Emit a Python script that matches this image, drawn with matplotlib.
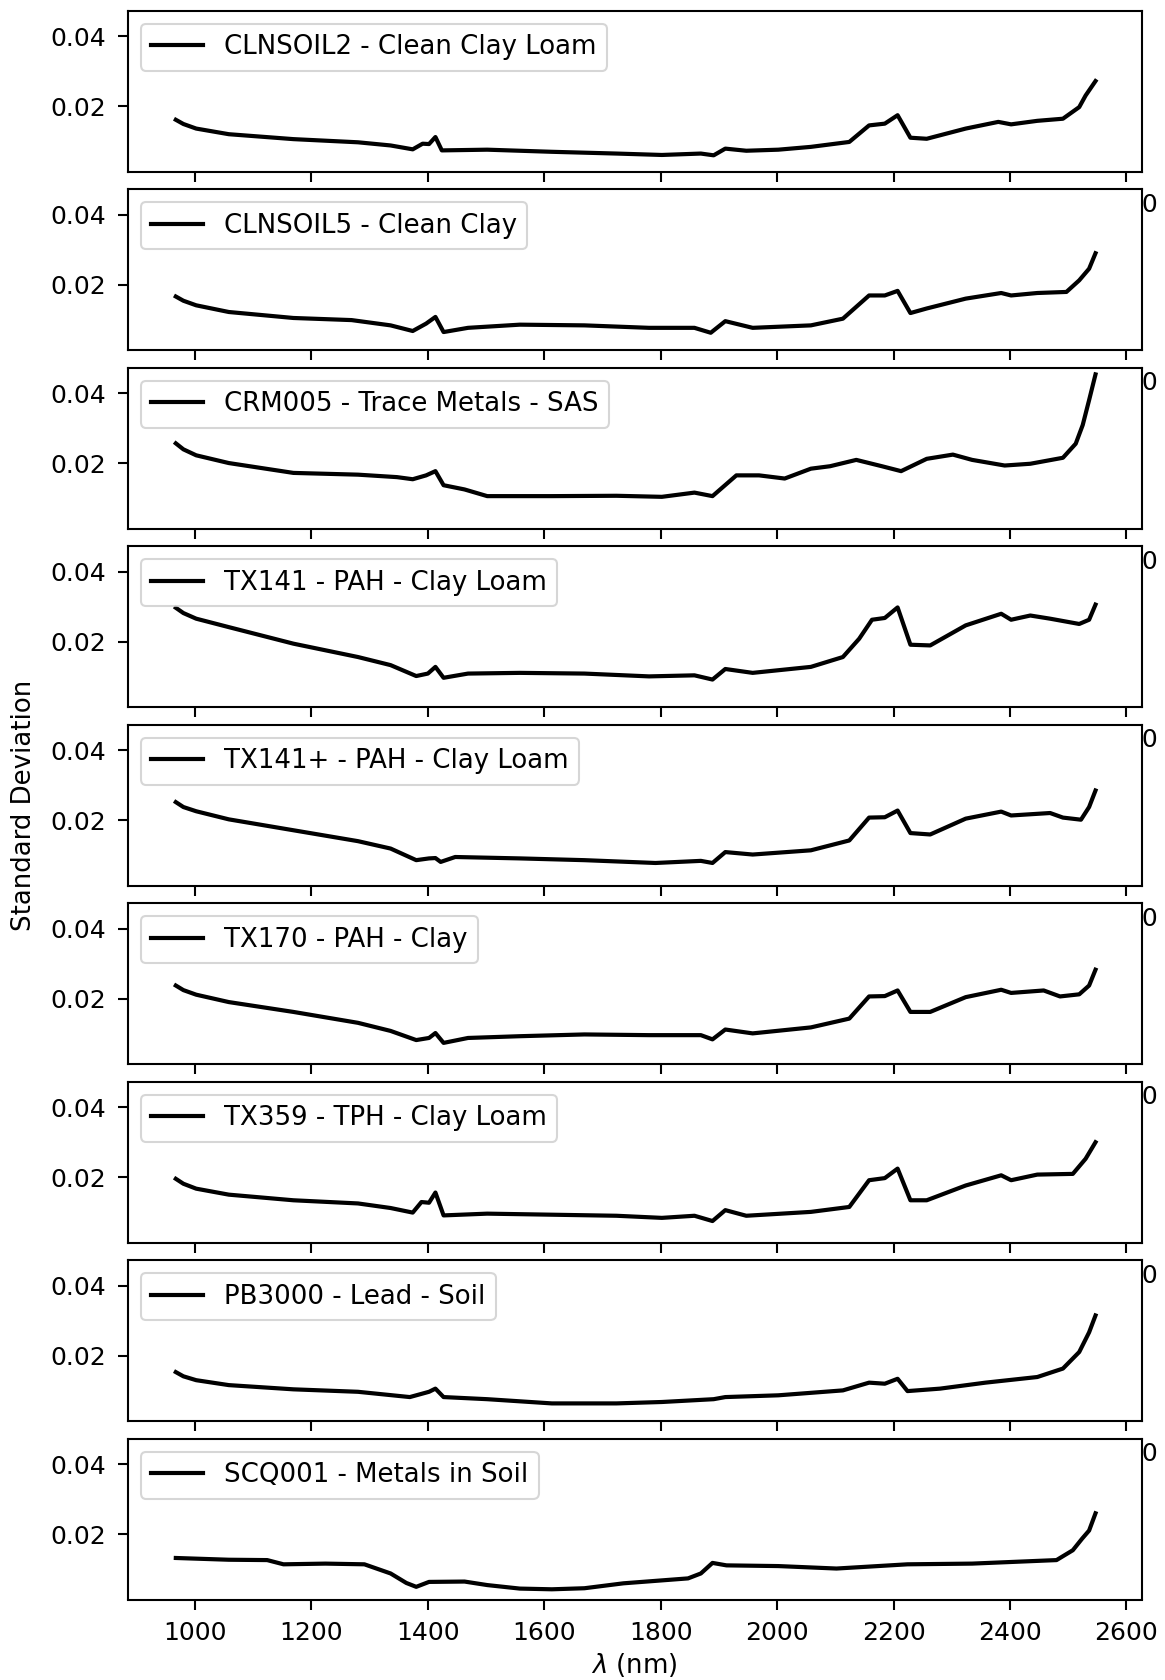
import matplotlib
matplotlib.use('Agg')
import matplotlib.pyplot as plt

# sample names (legend labels)
names = ['CLNSOIL2 - Clean Clay Loam', 'CLNSOIL5 - Clean Clay',
         'CRM005 - Trace Metals - SAS', 'TX141 - PAH - Clay Loam',
         'TX141+ - PAH - Clay Loam', 'TX170 - PAH - Clay',
         'TX359 - TPH - Clay Loam', 'PB3000 - Lead - Soil',
         'SCQ001 - Metals in Soil']

# values: wavelength (nm) / standard deviation
wl_clnsoil2 = [967, 980, 1002, 1058, 1169, 1280, 1336, 1374, 1391, 1402, 1413, 1424, 1502, 1613, 1724,
               1802, 1869, 1891, 1911, 1947, 2002, 2058, 2124, 2158, 2185, 2207, 2229, 2257, 2324,
               2380, 2402, 2447, 2491, 2519, 2530, 2547]
sd_clnsoil2 = [0.0162, 0.0150, 0.0137, 0.0121, 0.0107, 0.0098, 0.0089, 0.0078, 0.0094, 0.0093, 0.0113, 0.0075,
               0.0077, 0.0071, 0.0066, 0.0062, 0.0066, 0.0061, 0.0080, 0.0074, 0.0077, 0.0085, 0.0099,
               0.0146, 0.0151, 0.0175, 0.0111, 0.0108, 0.0137, 0.0156, 0.0149, 0.0159, 0.0165, 0.0198,
               0.0231, 0.0272]

wl_clnsoil5 = [967, 980, 1002, 1058, 1169, 1269, 1336, 1374, 1397, 1413, 1427, 1469, 1558, 1669, 1780,
               1858, 1886, 1911, 1958, 2058, 2113, 2158, 2185, 2207, 2229, 2257, 2324, 2385, 2402,
               2447, 2497, 2519, 2536, 2547]
sd_clnsoil5 = [0.0167, 0.0155, 0.0142, 0.0123, 0.0106, 0.0100, 0.0085, 0.0069, 0.0090, 0.0109, 0.0066, 0.0078,
               0.0087, 0.0085, 0.0078, 0.0078, 0.0064, 0.0097, 0.0078, 0.0085, 0.0104, 0.0170, 0.0170,
               0.0183, 0.0120, 0.0133, 0.0161, 0.0177, 0.0170, 0.0177, 0.0180, 0.0213, 0.0246, 0.0290]

wl_crm005 = [967, 980, 1002, 1058, 1169, 1280, 1347, 1374, 1397, 1413, 1427, 1463, 1502, 1613, 1724, 1802,
             1858, 1889, 1930, 1969, 2013, 2058, 2091, 2136, 2180, 2213, 2257, 2302, 2335, 2391, 2435,
             2491, 2513, 2525, 2536, 2547]
sd_crm005 = [0.0257, 0.0240, 0.0223, 0.0201, 0.0173, 0.0168, 0.0161, 0.0155, 0.0166, 0.0178, 0.0138, 0.0126,
             0.0107, 0.0107, 0.0108, 0.0105, 0.0117, 0.0107, 0.0166, 0.0166, 0.0157, 0.0185, 0.0192,
             0.0210, 0.0192, 0.0178, 0.0213, 0.0225, 0.0210, 0.0194, 0.0199, 0.0216, 0.0256, 0.0309,
             0.0380, 0.0453]

wl_tx141 = [967, 980, 1002, 1058, 1169, 1280, 1336, 1380, 1400, 1413, 1427, 1469, 1558, 1669, 1780, 1858,
            1889, 1911, 1958, 2058, 2113, 2141, 2163, 2185, 2207, 2229, 2263, 2324, 2385, 2402, 2435,
            2469, 2519, 2536, 2547]
sd_tx141 = [0.0297, 0.0282, 0.0266, 0.0242, 0.0195, 0.0157, 0.0134, 0.0103, 0.0110, 0.0129, 0.0098, 0.0110,
            0.0112, 0.0110, 0.0102, 0.0105, 0.0093, 0.0123, 0.0112, 0.0129, 0.0157, 0.0209, 0.0263,
            0.0268, 0.0298, 0.0192, 0.0190, 0.0247, 0.0280, 0.0263, 0.0275, 0.0266, 0.0251, 0.0263,
            0.0306]

wl_tx141p = [967, 980, 1002, 1058, 1169, 1280, 1336, 1380, 1402, 1413, 1422, 1447, 1558, 1669, 1791, 1869,
             1889, 1911, 1958, 2058, 2124, 2158, 2185, 2207, 2229, 2263, 2324, 2385, 2402, 2469, 2491,
             2522, 2536, 2547]
sd_tx141p = [0.0252, 0.0238, 0.0226, 0.0203, 0.0172, 0.0141, 0.0120, 0.0087, 0.0092, 0.0093, 0.0082, 0.0096,
             0.0092, 0.0087, 0.0079, 0.0085, 0.0079, 0.0110, 0.0103, 0.0115, 0.0143, 0.0208, 0.0209,
             0.0228, 0.0164, 0.0160, 0.0205, 0.0225, 0.0214, 0.0221, 0.0208, 0.0202, 0.0238, 0.0285]

wl_tx170 = [967, 980, 1002, 1058, 1169, 1280, 1336, 1380, 1402, 1413, 1427, 1469, 1558, 1669, 1780, 1869,
            1889, 1911, 1958, 2058, 2124, 2158, 2185, 2207, 2229, 2263, 2324, 2385, 2402, 2458, 2486,
            2519, 2536, 2547]
sd_tx170 = [0.0238, 0.0225, 0.0212, 0.0191, 0.0163, 0.0132, 0.0109, 0.0083, 0.0089, 0.0103, 0.0075, 0.0089,
            0.0094, 0.0099, 0.0097, 0.0097, 0.0085, 0.0113, 0.0102, 0.0119, 0.0144, 0.0207, 0.0208,
            0.0224, 0.0163, 0.0163, 0.0205, 0.0226, 0.0217, 0.0224, 0.0207, 0.0213, 0.0238, 0.0283]

wl_tx359 = [967, 980, 1002, 1058, 1169, 1280, 1336, 1374, 1389, 1402, 1413, 1427, 1502, 1613, 1724, 1802,
            1858, 1889, 1911, 1947, 2058, 2124, 2158, 2185, 2207, 2229, 2257, 2324, 2385, 2402, 2447,
            2508, 2530, 2547]
sd_tx359 = [0.0196, 0.0182, 0.0168, 0.0151, 0.0135, 0.0126, 0.0113, 0.0100, 0.0130, 0.0128, 0.0157, 0.0092,
            0.0097, 0.0094, 0.0091, 0.0085, 0.0091, 0.0076, 0.0107, 0.0091, 0.0102, 0.0116, 0.0192,
            0.0198, 0.0225, 0.0135, 0.0135, 0.0177, 0.0206, 0.0192, 0.0208, 0.0210, 0.0253, 0.0300]

wl_pb3000 = [967, 980, 1002, 1058, 1169, 1280, 1369, 1402, 1413, 1427, 1502, 1613, 1724, 1802, 1891, 1911,
             2002, 2113, 2158, 2185, 2207, 2224, 2280, 2358, 2447, 2491, 2519, 2536, 2547]
sd_pb3000 = [0.0154, 0.0142, 0.0131, 0.0117, 0.0105, 0.0098, 0.0083, 0.0098, 0.0107, 0.0083, 0.0077, 0.0065,
             0.0065, 0.0069, 0.0077, 0.0083, 0.0088, 0.0102, 0.0124, 0.0121, 0.0135, 0.0100, 0.0107,
             0.0124, 0.0140, 0.0164, 0.0211, 0.0267, 0.0315]

wl_scq001 = [967, 1058, 1124, 1152, 1224, 1291, 1336, 1363, 1380, 1402, 1463, 1502, 1558, 1613, 1669,
             1736, 1847, 1869, 1889, 1913, 2002, 2102, 2224, 2335, 2480, 2508, 2524, 2536, 2547]
sd_scq001 = [0.0133, 0.0128, 0.0127, 0.0115, 0.0117, 0.0115, 0.0089, 0.0062, 0.0051, 0.0065, 0.0066,
             0.0056, 0.0046, 0.0044, 0.0047, 0.0061, 0.0075, 0.0089, 0.0119, 0.0112, 0.0110, 0.0103,
             0.0115, 0.0117, 0.0127, 0.0155, 0.0188, 0.0211, 0.0260]

wavelengths = [wl_clnsoil2, wl_clnsoil5, wl_crm005, wl_tx141, wl_tx141p, wl_tx170, wl_tx359, wl_pb3000, wl_scq001]
std_devs = [sd_clnsoil2, sd_clnsoil5, sd_crm005, sd_tx141, sd_tx141p, sd_tx170, sd_tx359, sd_pb3000, sd_scq001]

xticks = [1000, 1200, 1400, 1600, 1800, 2000, 2200, 2400, 2600]
yticks = [0.02, 0.04]

plt.rcParams['axes.linewidth'] = 1.0
plt.rcParams['xtick.major.size'] = 4.7
plt.rcParams['ytick.major.size'] = 4.7
plt.rcParams['xtick.major.width'] = 1.0
plt.rcParams['ytick.major.width'] = 1.0
plt.rcParams['xtick.major.pad'] = 5.5
plt.rcParams['ytick.major.pad'] = 5.5
plt.rcParams['xtick.labelsize'] = 12
plt.rcParams['ytick.labelsize'] = 12
plt.rcParams['legend.fontsize'] = 12.5

W, H = 1165, 1680
fig = plt.figure(figsize=(W / 150, H / 150), dpi=150)

left, right = 127.5, 1141.5
top0, pitch, h = 10.7, 178.5, 160.8

axes = []
for k in range(len(names)):
    top = top0 + pitch * k
    ax = fig.add_axes([left / W, 1 - (top + h) / H, (right - left) / W, h / H])
    ax.plot(wavelengths[k], std_devs[k], color='k', lw=2, label=names[k])
    ax.set_xlim(884, 2626)
    ax.set_ylim(0.0015, 0.0472)
    ax.set_xticks(xticks)
    ax.set_yticks(yticks)
    ax.legend(loc='upper left')
    if k < len(names) - 1:
        # the upper panels' x labels sit under the next panel; only the
        # tail of "2600" pokes out past the right edge
        for lab in ax.get_xticklabels()[:-1]:
            lab.set_visible(False)
    axes.append(ax)

axes[-1].set_xlabel(r'$\lambda$ (nm)', fontsize=12.5, labelpad=3)
fig.text(23.6 / W, 1 - 805 / H, 'Standard Deviation', rotation=90, ha='center', va='center', fontsize=12.5)

fig.savefig('out.png', dpi=150)
